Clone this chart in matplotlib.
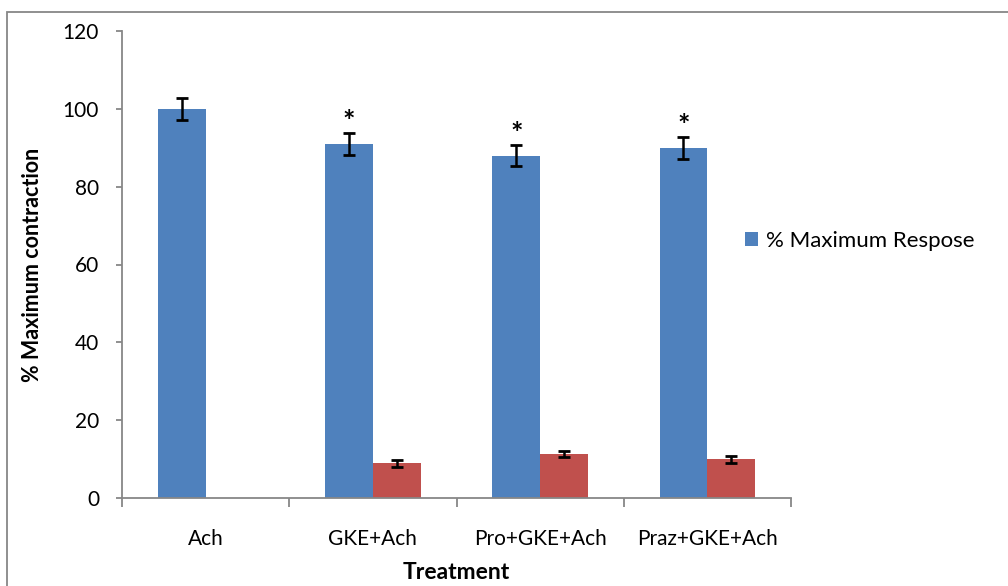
import numpy as np
import matplotlib
matplotlib.use('Agg')
import matplotlib.pyplot as plt
from matplotlib.patches import Rectangle

categories = ['Ach', 'GKE+Ach', 'Pro+GKE+Ach', 'Praz+GKE+Ach']
max_response = [100, 91, 88, 90]
max_response_err = [2.8, 2.9, 2.7, 2.8]
second = [np.nan, 8.9, 11.4, 9.9]
second_err = [np.nan, 0.9, 0.8, 0.8]
significant = [False, True, True, True]

plt.rcParams['font.family'] = ['Lato', 'DejaVu Sans']

fig = plt.figure(figsize=(10.08, 5.86), dpi=100)
ax = fig.add_axes([122/1008, 1 - 498/586, (791 - 122)/1008, (498 - 31)/586])

# outer chart border
fig.patches.append(Rectangle((7/1008, -0.1), 1.2, 1 - 12/586 + 0.1, transform=fig.transFigure,
                             fill=False, edgecolor='#878787', linewidth=1.3))

x = np.arange(len(categories))
w = 0.2857
ax.bar(x - w/2, max_response, w, color='#4F81BD', label='% Maximum Respose')
ax.errorbar(x - w/2, max_response, yerr=max_response_err, fmt='none', ecolor='black',
            elinewidth=1.8, capsize=4.5, capthick=2)
ax.bar(x + w/2, second, w, color='#C0504D')
ax.errorbar(x + w/2, second, yerr=second_err, fmt='none', ecolor='black',
            elinewidth=1.8, capsize=4.5, capthick=2)

for i, s in enumerate(significant):
    if s:
        ax.text(x[i] - w/2, max_response[i] + max_response_err[i] - 0.6, '*',
                ha='center', va='bottom', fontsize=21, fontweight='bold')

ax.set_xlim(-0.5, len(categories) - 0.5)
ax.set_ylim(0, 120)
ax.set_yticks(np.arange(0, 121, 20))
ax.set_xticks(x)
ax.set_xticklabels(categories)
ax.set_xticks(np.arange(-0.5, len(categories), 1), minor=True)
ax.tick_params(axis='x', which='major', length=0, pad=22, labelsize=15)
ax.tick_params(axis='x', which='minor', length=6.5, width=1.3, color='#878787')
ax.tick_params(axis='y', length=4.5, width=1.3, color='#878787', pad=12, labelsize=15)

for sp in ['top', 'right']:
    ax.spines[sp].set_visible(False)
for sp in ['left', 'bottom']:
    ax.spines[sp].set_color('#878787')
    ax.spines[sp].set_linewidth(1.3)

ax.set_xlabel('Treatment', fontsize=16.5, fontweight='bold', labelpad=10)
ax.set_ylabel('% Maximum contraction', fontsize=15.5, fontweight='bold', labelpad=14)

handles, labels = ax.get_legend_handles_labels()
fig.legend(handles[:1], labels[:1], loc='center left', bbox_to_anchor=(725/1008, 1 - 241/586),
           frameon=False, fontsize=16, handlelength=0.6, handleheight=0.6, handletextpad=0.35)

fig.savefig('out.png', dpi=100)
